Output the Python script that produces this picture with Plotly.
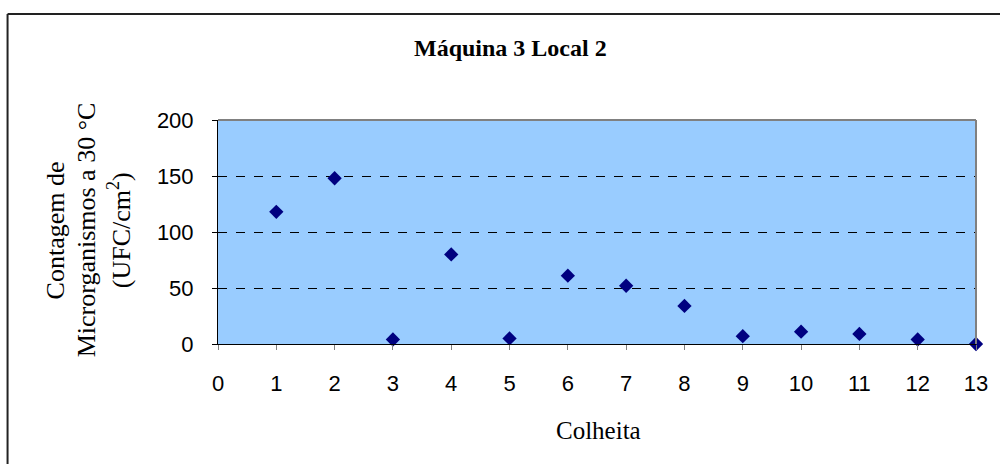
import plotly.graph_objects as go

# Colheita (harvest number) and microbial counts at 30 °C (UFC/cm²)
colheita = [1, 2, 3, 4, 5, 6, 7, 8, 9, 10, 11, 12, 13]
contagem = [118, 148, 4, 80, 5, 61, 52, 34, 7, 11, 9, 4, 0]

x_ticks = list(range(0, 14))
y_ticks = [0, 50, 100, 150, 200]

W, H = 1000, 464
L, R, T, B = 218, 22, 120, 120
PW, PH = W - L - R, H - T - B


def px_x(p):
    return (p - L) / PW


def px_y(p):
    return (H - B - p) / PH


fig = go.Figure()
fig.add_trace(go.Scatter(
    x=colheita, y=contagem, mode="markers",
    marker=dict(symbol="diamond", size=11, color="#000080",
                line=dict(width=0)),
    cliponaxis=False, showlegend=False,
))

serif = "Liberation Serif, Times New Roman, serif"
sans = "Liberation Sans, Arial, sans-serif"

fig.update_layout(
    width=W, height=H,
    margin=dict(l=L, r=R, t=T, b=B),
    paper_bgcolor="white",
    plot_bgcolor="#99CCFF",
    xaxis=dict(
        range=[0, 13], tickvals=x_ticks, ticktext=[str(v) for v in x_ticks],
        showgrid=False, zeroline=False,
        showline=True, linecolor="black", linewidth=1,
        ticks="outside", ticklen=5, tickcolor="#808080",
        ticklabelstandoff=15,
        tickfont=dict(family=sans, size=22, color="black"),
    ),
    yaxis=dict(
        range=[0, 200], tickvals=y_ticks, ticktext=[str(v) for v in y_ticks],
        showgrid=True, gridcolor="black", gridwidth=1, griddash="dash",
        zeroline=False,
        showline=True, linecolor="black", linewidth=1,
        ticks="outside", ticklen=5, tickcolor="black",
        ticklabelstandoff=14,
        tickfont=dict(family=sans, size=22, color="black"),
    ),
)

# gray top and right border of the plot area
fig.add_shape(type="line", xref="paper", yref="paper", x0=0, x1=1, y0=1, y1=1,
              line=dict(color="#808080", width=2))
fig.add_shape(type="line", xref="paper", yref="paper", x0=1, x1=1, y0=0, y1=1,
              line=dict(color="#808080", width=2))

# outer chart frame (top and left edges)
fig.add_shape(type="line", xref="paper", yref="paper",
              x0=px_x(7), x1=px_x(1010), y0=px_y(14), y1=px_y(14),
              line=dict(color="#222222", width=2))
fig.add_shape(type="line", xref="paper", yref="paper",
              x0=px_x(7), x1=px_x(7), y0=px_y(14), y1=px_y(480),
              line=dict(color="#222222", width=2))

# chart title
fig.add_annotation(text="<b>Máquina 3 Local 2</b>", xref="paper", yref="paper",
                   x=px_x(511), y=px_y(48), xanchor="center", yanchor="middle",
                   showarrow=False, font=dict(family=serif, size=24, color="black"))

# x axis title
fig.add_annotation(text="Colheita", xref="paper", yref="paper",
                   x=px_x(600), y=px_y(430), xanchor="center", yanchor="middle",
                   showarrow=False, font=dict(family=serif, size=25, color="black"))

# y axis title, three rotated lines
y_title_lines = ["Contagem de", "Microrganismos a 30 °C", "(UFC/cm<sup>2</sup>)"]
y_title_x = [55, 86, 119]
for line, xp in zip(y_title_lines, y_title_x):
    fig.add_annotation(text=line, xref="paper", yref="paper",
                       x=px_x(xp), y=px_y(230), xanchor="center", yanchor="middle",
                       textangle=-90, showarrow=False,
                       font=dict(family=serif, size=26, color="black"))

fig.write_html("out.html")
